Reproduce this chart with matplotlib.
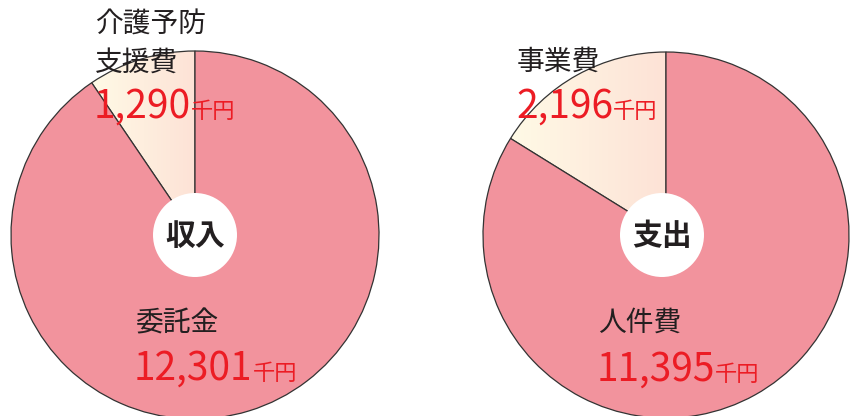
import numpy as np
import matplotlib
matplotlib.use("Agg")
import matplotlib.pyplot as plt
from matplotlib.patches import Circle
from matplotlib.colors import LinearSegmentedColormap

plt.rcParams['font.family'] = ['Noto Sans CJK JP', 'DejaVu Sans']

# ---- data ----
income_labels = ["介護予防\n支援費", "委託金"]
income_values = [1290, 12301]
expense_labels = ["事業費", "人件費"]
expense_values = [2196, 11395]
titles = ["収入", "支出"]
unit = "千円"

W, H = 850, 416
fig = plt.figure(figsize=(W / 100, H / 100), dpi=100)
ax = fig.add_axes([0, 0, 1, 1])

pink = "#F2939D"
edge = "#333333"
red = "#EC1C24"
dark = "#231F20"
grad_cmap = LinearSegmentedColormap.from_list("g", ["#FFFAE6", "#FDE2D6"])


def Y(py):
    return H - py


def draw_pie(values, cx, cy, r):
    wedges, _ = ax.pie(values, startangle=90, counterclock=True, radius=r,
                       center=(cx, Y(cy)), colors=["none", pink],
                       wedgeprops=dict(edgecolor=edge, linewidth=0.9))
    small = wedges[0]
    ext = small.get_path().get_extents()
    grad = np.linspace(0, 1, 256).reshape(1, -1)
    im = ax.imshow(grad, cmap=grad_cmap, aspect="auto",
                   extent=(ext.x0, ext.x1, ext.y0, ext.y1), zorder=0.5,
                   interpolation="bilinear")
    im.set_clip_path(small)
    for w in wedges:
        w.set_zorder(1)
    return wedges


draw_pie(income_values, 195, 235, 184)
draw_pie(expense_values, 666, 235, 183)

# center circles
ax.add_patch(Circle((195, Y(235)), 42, facecolor="white", edgecolor="none", zorder=3))
ax.add_patch(Circle((662, Y(235)), 42, facecolor="white", edgecolor="none", zorder=3))
ax.text(195, Y(245), titles[0], ha="center", va="baseline", fontsize=21.5,
        fontweight="bold", color=dark, zorder=4)
ax.text(662, Y(245), titles[1], ha="center", va="baseline", fontsize=21.5,
        fontweight="bold", color=dark, zorder=4)

lab_fs = 20
num_fs = 28
unit_fs = 16


def number(x, py, value):
    t = ax.text(x, Y(py), f"{value:,}", fontsize=num_fs, color=red,
                va="baseline", zorder=5)
    ax.annotate(unit, xy=(1, Y(py)), xycoords=(t, "data"),
                xytext=(0, 0), textcoords="offset points",
                fontsize=unit_fs, color=red, va="baseline", ha="left", zorder=5)
    return t


# income labels
l1, l2 = income_labels[0].split("\n")
ax.text(95, Y(33), l1, fontsize=lab_fs, color=dark, va="baseline", zorder=5)
ax.text(95, Y(71), l2, fontsize=lab_fs, color=dark, va="baseline", zorder=5)
number(94, 118, income_values[0])

ax.text(135, Y(331), income_labels[1], fontsize=lab_fs, color=dark, va="baseline", zorder=5)
number(134, 380, income_values[1])

# expense labels
ax.text(517, Y(70), expense_labels[0], fontsize=lab_fs, color=dark, va="baseline", zorder=5)
number(516, 118, expense_values[0])

ax.text(598, Y(331), expense_labels[1], fontsize=lab_fs, color=dark, va="baseline", zorder=5)
number(597, 381, expense_values[1])

ax.set_xlim(0, W)
ax.set_ylim(0, H)
ax.set_aspect("equal")
ax.axis("off")

fig.savefig("out.png", dpi=100, facecolor="white")
